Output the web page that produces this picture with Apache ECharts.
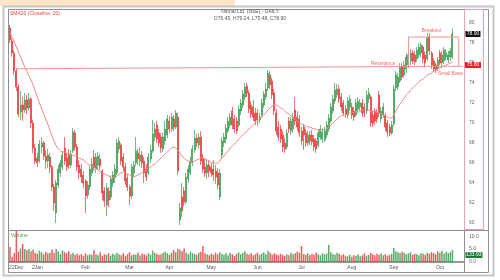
<!DOCTYPE html>
<html><head><meta charset="utf-8">
<script src="https://cdn.jsdelivr.net/npm/echarts@6/dist/echarts.min.js"></script>
<style>html,body{margin:0;padding:0;background:#fff}#c{width:500px;height:280px}</style>
</head><body><div id="c"></div>
<script>
// [open, close, low, high]
const candles = [
[79.5,78.3,78.0,79.8],[78.2,77.0,76.6,78.5],[77.0,75.2,74.8,77.3],[75.2,73.6,73.2,75.5],[73.6,70.9,70.6,73.9],
[71.1,71.8,70.3,73.2],[71.8,71.3,70.2,72.6],[71.3,72.3,71.0,73.0],[72.3,71.5,70.9,72.8],[71.5,72.4,71.2,73.0],
[72.4,70.0,69.5,72.6],[70.0,67.5,67.0,70.3],[67.5,66.2,65.9,67.9],[66.5,66.0,65.6,67.0],[66.2,67.9,66.0,68.3],
[67.6,68.0,67.0,68.6],[68.0,66.7,66.3,68.2],[66.7,66.2,65.4,67.3],[66.2,66.8,65.5,67.4],[66.6,65.6,65.0,67.0],
[65.6,63.6,63.2,65.8],[63.6,62.0,61.2,63.9],[61.0,64.0,60.0,64.3],[63.8,65.4,63.5,65.8],[65.0,66.0,64.6,66.3],
[65.6,66.8,65.3,67.2],[67.5,66.2,65.8,68.6],[66.5,65.6,65.2,67.0],[66.9,65.8,65.4,67.4],[65.8,66.9,65.5,67.3],
[67.2,69.1,67.0,69.5],[69.0,67.6,67.3,69.3],[67.6,65.6,65.2,67.9],[65.8,65.0,64.4,66.3],[65.4,64.6,64.0,65.9],
[64.8,64.0,63.5,65.2],[64.2,62.7,61.0,64.4],[62.8,63.8,62.4,64.2],[63.6,65.4,63.3,65.7],[65.0,65.9,64.7,66.5],
[66.6,65.5,65.2,67.3],[65.4,66.6,65.0,67.0],[65.8,66.7,65.4,67.1],[66.4,65.7,65.3,66.9],[65.2,63.0,62.3,65.4],
[63.2,62.2,61.6,63.6],[61.8,63.5,60.7,64.0],[63.2,62.3,61.6,63.6],[62.6,64.4,62.3,64.8],[64.0,64.8,63.6,65.2],
[64.5,65.4,64.0,65.9],[65.0,68.0,64.8,68.4],[67.4,68.2,67.0,68.6],[67.8,66.2,65.8,68.0],[66.6,65.6,65.2,67.0],
[65.6,64.2,63.8,66.0],[64.5,63.6,63.2,64.9],[63.6,62.7,61.8,63.8],[62.7,65.6,62.4,65.9],[65.0,65.8,64.6,66.2],
[66.0,67.2,65.7,68.6],[67.0,66.4,65.8,67.4],[66.2,66.8,65.7,67.6],[66.8,66.0,65.5,67.2],[66.2,65.0,64.0,66.6],
[65.4,64.6,64.2,65.9],[65.0,66.6,64.8,67.0],[66.4,67.3,66.0,67.8],[67.2,68.9,67.0,70.3],[68.6,69.4,68.2,70.0],
[69.8,68.4,68.0,70.2],[69.0,68.0,67.6,69.4],[68.6,67.5,67.0,69.0],[67.4,68.6,67.1,69.0],[68.2,69.4,67.8,70.2],
[68.8,70.4,68.5,70.8],[70.2,69.4,69.0,70.7],[69.4,70.6,69.1,71.0],[70.4,69.6,69.2,70.8],[69.6,71.0,69.4,71.3],
[70.6,65.2,64.8,71.0],[60.3,61.5,59.8,62.0],[62.6,61.2,60.6,64.0],[63.2,62.1,61.7,63.6],[62.1,64.6,61.9,65.0],
[64.4,65.4,64.0,65.8],[65.0,66.2,64.8,66.6],[66.0,67.4,65.7,67.8],[67.3,68.5,67.0,69.3],[68.5,68.0,67.6,68.9],
[67.8,68.6,67.4,69.0],[68.6,66.2,65.8,69.2],[66.5,65.4,65.0,66.9],[65.6,65.0,64.6,66.4],[65.0,65.8,64.4,66.4],
[65.8,65.2,64.6,66.2],[65.6,65.0,64.6,66.0],[65.4,64.8,64.2,66.3],[65.2,64.6,63.9,65.8],[65.0,63.8,63.4,65.5],
[62.6,65.0,62.3,65.4],[66.8,68.2,66.5,68.6],[68.0,68.6,67.6,69.0],[68.4,69.5,68.0,69.9],[69.2,70.2,69.0,70.6],
[69.8,70.6,69.5,71.0],[71.2,69.8,69.4,71.6],[70.4,69.4,69.0,70.8],[70.2,69.2,68.9,70.6],[69.8,71.4,69.6,71.8],
[71.2,72.0,70.8,72.4],[71.8,72.9,71.5,73.3],[72.6,73.6,72.3,74.0],[73.7,73.0,72.6,74.0],[73.0,71.4,71.0,73.3],
[71.8,70.9,70.5,72.2],[71.6,70.6,70.2,72.3],[71.0,70.2,69.8,71.5],[71.0,70.3,69.7,71.4],[70.3,70.6,70.0,71.0],
[70.8,72.0,70.5,72.4],[71.8,72.9,71.5,73.2],[72.6,73.4,72.3,74.0],[73.5,75.0,73.2,75.3],[74.8,73.8,73.4,75.2],
[74.2,72.8,72.4,74.5],[73.0,71.2,70.8,73.4],[71.0,69.2,68.8,71.4],[69.6,68.6,68.2,70.2],[69.4,68.4,68.0,69.8],
[68.8,67.6,67.1,69.2],[68.0,67.4,67.0,68.5],[67.6,69.0,67.3,69.4],[70.2,69.4,69.0,70.6],[69.2,70.2,68.8,70.6],
[69.4,70.6,69.0,71.0],[71.3,70.2,69.8,72.6],[70.6,69.6,69.2,71.2],[70.4,69.0,68.6,70.8],[69.2,68.2,67.8,69.6],
[69.6,68.8,67.3,69.9],[69.0,68.0,67.6,69.4],[68.0,68.8,67.7,69.2],[68.8,68.2,67.8,69.2],[68.8,68.1,67.8,69.3],
[68.4,67.6,67.2,68.8],[68.2,67.4,67.0,68.5],[67.8,69.0,67.6,69.4],[68.6,69.4,68.3,69.8],[68.4,69.1,68.0,69.5],
[68.3,69.2,68.1,69.6],[68.8,69.8,68.5,70.2],[69.4,70.5,69.1,70.9],[70.2,71.6,70.0,72.0],[71.2,72.4,70.9,72.8],
[72.2,73.3,71.9,74.0],[72.8,73.4,72.5,73.9],[73.4,72.4,72.0,73.8],[72.6,71.6,71.2,73.0],[72.0,71.0,70.7,72.3],
[71.4,70.9,70.5,71.8],[70.8,72.2,70.5,72.6],[71.6,72.4,71.2,72.8],[71.6,70.8,70.4,72.0],[71.2,70.6,70.2,71.6],
[70.8,72.0,70.6,72.4],[71.4,72.2,71.0,72.6],[71.6,72.0,71.2,72.4],[72.0,71.0,70.6,72.4],[71.6,71.0,70.6,72.0],
[71.2,72.8,70.9,73.3],[72.4,73.0,72.0,73.5],[72.6,70.0,69.6,72.8],[70.8,70.0,69.6,71.2],[71.2,70.2,69.8,71.5],
[71.0,70.4,70.0,71.4],[72.8,71.0,70.6,73.2],[70.4,71.2,70.0,71.6],[70.8,71.6,70.5,72.0],[70.8,69.6,69.2,71.0],
[70.0,69.1,68.6,70.3],[69.6,69.0,68.7,69.9],[69.0,69.8,68.8,70.2],[69.9,73.4,69.7,73.8],[73.5,74.8,73.2,75.2],
[73.6,74.6,73.3,75.0],[74.2,75.6,74.0,76.0],[75.6,74.6,74.3,76.0],[74.8,75.8,74.5,76.2],[75.4,76.6,75.0,77.0],
[75.8,76.8,75.5,77.2],[76.2,77.0,75.8,77.4],[77.0,76.2,75.9,77.3],[76.8,76.1,75.8,77.2],[76.4,77.3,76.1,77.6],
[76.8,77.6,76.5,78.0],[77.0,77.8,76.6,78.1],[77.6,76.4,76.0,77.8],[76.8,76.0,75.6,77.2],[76.4,78.5,76.2,79.0],
[78.6,77.2,76.8,79.0],[77.0,75.8,75.4,77.2],[76.2,75.4,75.1,76.5],[75.8,75.3,75.0,76.0],[75.5,76.3,75.2,76.6],
[77.0,76.0,75.8,77.3],[76.0,76.8,75.7,77.2],[76.2,77.3,75.9,77.6],[76.6,77.0,76.3,77.4],[76.3,76.8,76.0,77.2],
[76.6,77.2,76.2,77.5],[76.6,78.9,76.4,79.5]
];
const sma20 = [
79.0,78.6,78.1,77.6,77.1,76.6,76.1,75.6,75.2,74.7,
74.3,73.8,73.2,72.6,72.0,71.5,70.9,70.4,69.9,69.3,
68.7,68.2,67.7,67.4,67.2,67.1,67.1,67.0,66.9,66.8,
66.8,66.7,66.6,66.5,66.4,66.3,66.1,65.9,65.8,65.7,
65.6,65.4,65.3,65.1,65.0,64.9,64.8,64.7,64.6,64.5,
64.6,64.7,64.9,65.0,65.1,65.0,64.9,64.8,64.7,64.6,
64.7,64.8,64.9,65.1,65.2,65.3,65.5,65.6,65.8,65.9,
66.1,66.3,66.5,66.7,66.9,67.1,67.3,67.5,67.6,67.5,
67.3,67.0,66.7,66.5,66.3,66.2,66.1,66.1,66.2,66.3,
66.4,66.5,66.5,66.4,66.3,66.2,66.1,66.0,66.0,66.0,
66.2,66.5,66.7,67.0,67.2,67.5,67.7,67.9,68.1,68.4,
68.6,68.8,69.0,69.2,69.4,69.6,69.8,70.0,70.2,70.4,
70.6,70.8,71.0,71.3,71.5,71.7,71.8,71.8,71.7,71.5,
71.4,71.2,71.0,70.9,70.7,70.5,70.4,70.2,70.0,69.9,
69.8,69.7,69.6,69.6,69.5,69.4,69.4,69.3,69.3,69.3,
69.3,69.4,69.6,69.8,70.0,70.2,70.4,70.6,70.7,70.8,
70.8,70.9,71.0,71.0,71.1,71.1,71.2,71.2,71.3,71.3,
71.3,71.3,71.2,71.2,71.1,71.1,71.0,70.9,70.8,70.7,
70.6,70.5,70.5,70.8,71.2,71.6,71.9,72.2,72.5,72.8,
73.0,73.3,73.5,73.7,73.9,74.1,74.3,74.4,74.6,74.8,
74.9,75.0,75.2,75.3,75.4,75.5,75.6,75.7,75.8,75.9,
76.0,76.1
];
const volume = [
5.8,2.0,3.5,12.2,4.0,5.2,7.0,5.0,4.6,5.0,
4.2,4.8,3.6,3.2,4.4,3.8,3.0,4.0,3.4,3.6,
4.8,3.5,5.0,4.2,3.0,4.5,3.8,3.4,4.2,3.0,
3.6,2.8,3.2,2.6,3.0,2.4,3.4,2.6,3.0,2.8,
4.6,3.0,2.6,3.8,2.4,3.0,2.8,3.4,2.5,3.2,
2.8,3.6,3.0,2.6,3.4,2.4,3.0,3.8,2.6,3.0,
2.8,3.6,2.5,3.2,3.0,2.6,3.4,2.8,4.4,3.6,
3.2,2.8,3.0,3.6,4.0,3.4,2.8,3.6,4.6,3.8,
5.0,4.8,4.2,5.2,3.6,3.0,4.0,3.4,3.2,2.8,
3.6,4.0,6.2,3.4,3.0,2.6,3.2,2.8,3.6,3.0,
3.8,3.2,2.8,3.4,2.6,3.6,3.0,2.4,3.2,3.8,
3.0,3.6,4.2,3.2,2.8,3.4,2.6,3.0,3.6,2.8,
3.2,3.8,3.0,4.4,3.6,2.8,3.4,3.0,2.6,3.2,
2.8,2.4,3.0,2.6,3.6,3.0,3.4,4.0,3.6,6.2,
3.0,2.8,3.4,2.6,3.2,2.8,3.6,3.0,2.6,3.4,
3.0,3.2,6.6,3.8,3.0,2.8,3.6,3.2,2.6,3.0,
2.4,2.2,2.8,2.0,2.6,2.4,3.0,2.2,2.6,3.4,
2.4,2.8,3.6,3.0,2.6,3.2,2.8,3.4,2.6,3.0,
2.4,2.8,3.2,5.4,4.2,3.8,3.4,4.0,3.6,3.0,
3.4,3.8,2.8,3.2,3.0,2.6,3.4,3.2,2.8,3.6,
3.2,3.8,3.4,3.0,4.2,3.6,4.4,3.2,4.0,3.4,
3.8,4.6
];
const tickIndex = [3,13,36,57,76,96,118,139,163,183,205];
const tickText = ['22Dec','2Jan','Feb','Mar','Apr','May','Jun','Jul','Aug','Sep','Oct'];
const priceTicks = [60,62,64,66,68,70,72,74,76,78,80];
const volumeTicks = [0,5,10];
const resistance = [[3,75.42],[216,75.68]];
const breakoutBox = [[190,75.6],[190,78.6],[214,78.6],[214,75.6]];
const notes = [{name:'Resistance',value:[178,75.95]},{name:'Breakout',value:[201,79.2]},{name:'Small Base',value:[210,74.9]}];
const lastClose = 78.9, resistTag = 75.8, lastVolTag = 2.7;
const blankSlots = 5;

const UP = '#3c9c50', DOWN = '#ea3535';
const cats = Array.from({length: candles.length + blankSlots}, (_, i) => String(i));
const lastIdx = cats.length - 1;
const volData = volume.map((v, i) => ({value: v, itemStyle: {color: candles[i][1] >= candles[i][0] ? 'rgba(60,156,80,0.85)' : 'rgba(234,53,53,0.8)'}}));
const FONT = 'Liberation Sans';

const chart = echarts.init(document.getElementById('c'), null, {renderer: 'canvas'});
chart.setOption({
  animation: false,
  backgroundColor: '#fff',
  textStyle: {fontFamily: FONT},
  grid: [
    {left: 9, right: 36, top: 9, height: 220},
    {left: 9, right: 36, top: 231, height: 31}
  ],
  xAxis: [
    {type: 'category', gridIndex: 0, data: cats, axisLine: {show: false}, axisTick: {show: false}, axisLabel: {show: false}, splitLine: {show: false}},
    {type: 'category', gridIndex: 1, data: cats,
     axisLine: {lineStyle: {color: '#777', width: 1.5}}, axisTick: {show: false}, splitLine: {show: false},
     axisLabel: {interval: (i) => tickIndex.includes(i), formatter: (v) => tickText[tickIndex.indexOf(+v)] || '', fontSize: 5, color: '#555', margin: 3, fontFamily: FONT}}
  ],
  yAxis: [
    {type: 'value', gridIndex: 0, position: 'right', min: 59.4, max: 81.4, splitLine: {show: false},
     axisLine: {show: true, lineStyle: {color: '#e7a3b5'}}, axisTick: {show: false},
     axisLabel: {customValues: priceTicks, fontSize: 5, color: '#666', margin: 5, fontFamily: FONT}},
    {type: 'value', gridIndex: 1, position: 'right', min: 0, max: 12, splitLine: {show: false},
     axisLine: {show: true, lineStyle: {color: '#888'}}, axisTick: {show: false},
     axisLabel: {customValues: volumeTicks, formatter: (v) => v.toFixed(1), fontSize: 5, color: '#666', margin: 5, fontFamily: FONT}}
  ],
  series: [
    {type: 'candlestick', xAxisIndex: 0, yAxisIndex: 0, data: candles, barWidth: 1.5,
     itemStyle: {color: UP, color0: DOWN, borderColor: UP, borderColor0: DOWN, borderWidth: 0.7},
     markPoint: {symbol: 'rect', silent: true, data: [
       {coord: [lastIdx, lastClose], value: lastClose.toFixed(2), symbolSize: [15, 6], symbolOffset: [10, 0], itemStyle: {color: '#111'}, label: {color: '#fff', fontSize: 5, fontFamily: FONT}},
       {coord: [lastIdx, resistTag], value: resistTag.toFixed(2), symbolSize: [16, 6], symbolOffset: [10, 0], itemStyle: {color: '#e02424'}, label: {color: '#fff', fontSize: 5, fontFamily: FONT}}
     ]}},
    {type: 'line', xAxisIndex: 0, yAxisIndex: 0, data: sma20, symbol: 'none', lineStyle: {color: '#f28a8a', width: 1}, z: 3},
    {type: 'line', xAxisIndex: 0, yAxisIndex: 0, data: resistance, symbol: 'none', lineStyle: {color: '#f29494', width: 1}, z: 3},
    {type: 'line', xAxisIndex: 0, yAxisIndex: 0, data: breakoutBox, symbol: 'none', lineStyle: {color: '#f29494', width: 1}, z: 3},
    {type: 'scatter', xAxisIndex: 0, yAxisIndex: 0, data: notes, symbolSize: 0, z: 4,
     label: {show: true, position: 'inside', formatter: '{b}', color: '#e84848', fontSize: 5, fontFamily: FONT}},
    {type: 'bar', xAxisIndex: 1, yAxisIndex: 1, data: volData, barWidth: 1.5,
     markPoint: {symbol: 'rect', silent: true, data: [
       {coord: [lastIdx, lastVolTag], value: '133.93', symbolSize: [17, 6], symbolOffset: [11, 0], itemStyle: {color: '#1f7a3a'}, label: {color: '#fff', fontSize: 5, fontFamily: FONT}}
     ]}}
  ],
  graphic: [
    {type: 'rect', shape: {x: 0, y: 0, width: 235, height: 6}, style: {fill: '#fde5c8'}, z: 0},
    {type: 'rect', shape: {x: 3.5, y: 6.5, width: 490, height: 269}, style: {fill: 'none', stroke: '#c6c6c6', lineWidth: 2}, z: 100},
    {type: 'rect', shape: {x: 8.5, y: 9.5, width: 480, height: 263}, style: {fill: 'none', stroke: '#8f8f8f', lineWidth: 1}, z: 100},
    {type: 'rect', shape: {x: 464.5, y: 9.5, width: 19, height: 220}, style: {fill: 'none', stroke: '#e7a3b5', lineWidth: 1}, z: 100},
    {type: 'line', shape: {x1: 8.5, y1: 230.5, x2: 488.5, y2: 230.5}, style: {stroke: '#8f8f8f', lineWidth: 1}, z: 100},
    {type: 'line', shape: {x1: 464.5, y1: 230.5, x2: 464.5, y2: 272.5}, style: {stroke: '#8f8f8f', lineWidth: 1}, z: 100},
    {type: 'text', x: 10, y: 11, style: {text: 'SMA20 (Closeline, 20)', fill: '#e84848', font: '5px "Liberation Sans"'}, z: 100},
    {type: 'text', x: 250, y: 9, style: {text: 'Nirmal Ltd. (NSE) - DAILY', fill: '#555', font: '5px "Liberation Sans"', align: 'center'}, z: 100},
    {type: 'text', x: 250, y: 16, style: {text: 'O76.45, H79.24, L75.48, C78.90', fill: '#555', font: '5px "Liberation Sans"', align: 'center'}, z: 100},
    {type: 'text', x: 11, y: 233, style: {text: 'Volume', fill: '#3c9c50', font: '5px "Liberation Sans"'}, z: 100}
  ]
});
</script>
</body></html>
